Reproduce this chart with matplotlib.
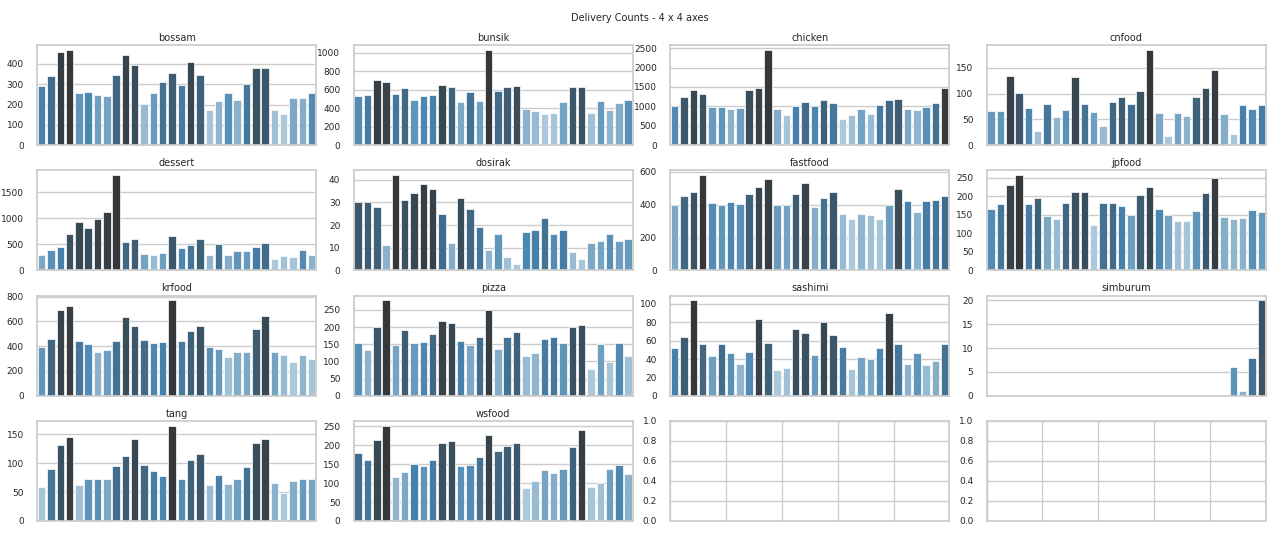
import numpy as np
import matplotlib
matplotlib.use("Agg")
import matplotlib.pyplot as plt
from matplotlib.ticker import MaxNLocator
import seaborn as sns

days = list(range(1, 31))
categories = ["bossam", "bunsik", "chicken", "cnfood", "dessert", "dosirak",
              "fastfood", "jpfood", "krfood", "pizza", "sashimi", "simburum",
              "tang", "wsfood"]

bossam = [290, 340, 460, 470, 255, 260, 248, 244, 345, 445, 395, 203, 255, 313, 357,
          295, 412, 347, 175, 218, 258, 225, 300, 382, 378, 175, 152, 232, 230, 258]
bunsik = [535, 545, 705, 690, 555, 625, 495, 535, 545, 655, 630, 470, 575, 475, 1035,
          585, 630, 645, 395, 375, 340, 350, 470, 630, 630, 350, 480, 380, 455, 495]
chicken = [1000, 1250, 1430, 1310, 980, 980, 925, 965, 1410, 1470, 2460, 925, 790, 1020, 1120,
           1000, 1175, 1100, 680, 790, 925, 810, 1040, 1160, 1200, 925, 910, 985, 1100, 1470]
cnfood = [67, 67, 135, 102, 73, 28, 79, 54, 69, 132, 79, 65, 37, 83, 93,
          79, 106, 185, 62, 18, 63, 56, 93, 110, 145, 60, 22, 78, 70, 78]
dessert = [300, 390, 445, 700, 935, 820, 990, 1120, 1830, 550, 610, 320, 290, 335, 665,
           435, 490, 610, 290, 505, 290, 365, 365, 450, 535, 215, 275, 260, 390, 290]
dosirak = [30, 30, 28, 11, 42, 31, 34, 38, 36, 25, 12, 32, 27, 19, 9,
           16, 6, 3, 17, 18, 23, 16, 18, 8, 5, 12, 13, 16, 13, 14]
fastfood = [395, 455, 478, 580, 410, 400, 415, 405, 465, 510, 555, 400, 395, 465, 530,
            385, 443, 475, 345, 310, 345, 337, 315, 395, 497, 420, 355, 420, 428, 452]
jpfood = [165, 181, 230, 258, 179, 197, 147, 139, 183, 211, 213, 124, 183, 183, 173,
          151, 205, 225, 167, 151, 133, 133, 161, 209, 250, 145, 139, 143, 163, 157]
krfood = [395, 460, 690, 720, 445, 420, 350, 365, 445, 635, 560, 450, 428, 430, 770,
          440, 522, 565, 395, 378, 312, 355, 355, 535, 640, 355, 325, 270, 330, 295]
pizza = [153, 133, 200, 278, 148, 190, 153, 157, 179, 218, 211, 159, 148, 172, 250,
         136, 172, 185, 115, 125, 165, 172, 153, 200, 207, 79, 151, 99, 155, 115]
sashimi = [52, 64, 104, 56, 43, 56, 47, 35, 48, 84, 57, 28, 30, 73, 68,
           44, 80, 66, 53, 29, 42, 40, 52, 90, 56, 35, 47, 34, 38, 56]
simburum = [None] * 26 + [6, 1, 8, 20]
tang = [58, 90, 132, 146, 62, 73, 73, 72, 95, 112, 141, 97, 86, 77, 165,
        73, 106, 116, 63, 80, 64, 73, 93, 135, 142, 65, 49, 69, 73, 73]
wsfood = [180, 160, 215, 252, 115, 130, 150, 145, 160, 207, 212, 145, 147, 170, 228,
          185, 197, 205, 88, 105, 135, 128, 138, 195, 240, 90, 100, 137, 147, 125]

series = {"bossam": bossam, "bunsik": bunsik, "chicken": chicken, "cnfood": cnfood,
          "dessert": dessert, "dosirak": dosirak, "fastfood": fastfood, "jpfood": jpfood,
          "krfood": krfood, "pizza": pizza, "sashimi": sashimi, "simburum": simburum,
          "tang": tang, "wsfood": wsfood}

sns.set_theme(style="whitegrid")
plt.rcParams['font.family'] = ['DejaVu Sans']

fig, axes = plt.subplots(4, 4, figsize=(12.8, 5.4), dpi=100)
fig.subplots_adjust(left=0.0289, right=0.989, top=0.9167, bottom=0.0352,
                    wspace=0.133, hspace=0.25)
fig.suptitle("Delivery Counts - 4 x 4 axes", fontsize=7, y=0.967, va='center')

pos_all = np.arange(len(days))
for ax, name in zip(axes.flat, categories):
    vals = np.array([np.nan if v is None else v for v in series[name]], dtype=float)
    mask = ~np.isnan(vals)
    n = int(mask.sum())
    pal = sns.color_palette("Blues_d", n)
    rank = vals[mask].argsort().argsort()
    colors = [sns.desaturate(pal[r], 0.75) for r in rank]
    ax.bar(pos_all[mask], vals[mask], width=0.8, color=colors,
           edgecolor='white', linewidth=0.5)
    ax.set_xlim(-0.5, len(days) - 0.5)
    ax.set_xticks(pos_all)
    ax.set_xticklabels([])
    ax.grid(False, axis='x')
    ax.set_title(name, fontsize=7, pad=3)
    ax.tick_params(labelsize=6.5)
    ax.yaxis.set_major_locator(MaxNLocator(nbins=6, steps=[1, 2, 2.5, 5, 10]))

for ax in axes.flat[len(categories):]:
    ax.tick_params(labelsize=6.5)
    ax.set_xticklabels([])
    ax.yaxis.set_major_locator(MaxNLocator(nbins=6, steps=[1, 2, 2.5, 5, 10]))

fig.savefig("out.png", dpi=100)
